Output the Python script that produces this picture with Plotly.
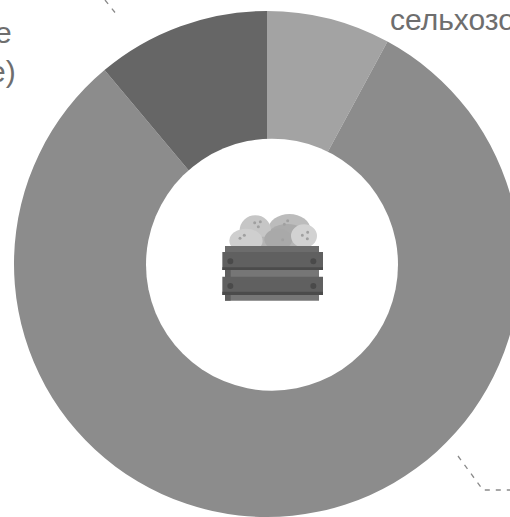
import plotly.graph_objects as go

# --- data ---
categories = ["A", "B", "C"]
shares = [7.9, 81.0, 11.1]
slice_colors = ["#a3a3a3", "#8c8c8c", "#666666"]
label_fragments = ["е", "е)", "сельхозо"]

W, H = 534, 517
R, CY = 253, 264


def px(x):
    return x / W


def py(y):
    return 1 - y / H


def zx(v):
    return 180 + v / 3


def zy(v):
    return 180 + v / 3


shapes = []

# white centre, slightly off the ring's own centre as in the reference
shapes.append(dict(type="circle", xref="paper", yref="paper", layer="above",
                   x0=px(272 - 126), x1=px(272 + 126),
                   y0=py(264.7 - 126), y1=py(264.7 + 126),
                   fillcolor="white", line_width=0))


def ellipse(cx, cy, rx, ry, color):
    shapes.append(dict(type="circle", xref="paper", yref="paper", layer="above",
                       x0=px(zx(cx - rx)), x1=px(zx(cx + rx)),
                       y0=py(zy(cy - ry)), y1=py(zy(cy + ry)),
                       fillcolor=color, line_width=0))


def rect(x0, y0, x1, y1, color):
    shapes.append(dict(type="rect", xref="paper", yref="paper", layer="above",
                       x0=px(zx(x0)), x1=px(zx(x1)), y0=py(zy(y0)), y1=py(zy(y1)),
                       fillcolor=color, line_width=0))


def leader(points):
    d = "M " + " L ".join(f"{px(x)} {py(y)}" for x, y in points)
    shapes.append(dict(type="path", xref="paper", yref="paper", layer="above", path=d,
                       line=dict(color="#8a8a8a", width=1.3, dash="5px,6px")))


# potatoes
ellipse(328, 148, 63, 46, "#bcbcbc")
ellipse(322, 172, 62, 40, "#ababab")
ellipse(226, 152, 47, 46, "#c6c6c6")
rect(190, 170, 350, 200, "#b5b5b5")
ellipse(198, 182, 50, 36, "#cfcfcf")
ellipse(295, 178, 42, 32, "#a9a9a9")
ellipse(372, 168, 39, 35, "#d2d2d2")
for cx, cy in [(224, 128), (241, 125), (235, 140), (180, 175), (193, 166), (313, 133),
               (323, 122), (367, 166), (383, 157), (382, 176), (308, 179)]:
    ellipse(cx, cy, 4.5, 4.5, "#a0a0a0")

# crate
rect(135, 198, 417, 362, "#767676")
rect(135, 198, 417, 216, "#6c6c6c")
rect(135, 216, 152, 362, "#5e5e5e")
rect(127, 216, 429, 270, "#606060")
rect(127, 262, 429, 270, "#4b4b4b")
rect(127, 290, 429, 345, "#606060")
rect(127, 335, 429, 345, "#4b4b4b")
for cx in (151, 400):
    for cy in (244, 318):
        ellipse(cx, cy, 9, 9, "#4a4a4a")

# leader lines
leader([(105, 0), (117, 15)])
leader([(372, -6), (366, 3)])
leader([(458, 456), (483, 490), (534, 490)])

fig = go.Figure(go.Pie(
    labels=categories, values=shares, sort=False, direction="clockwise", rotation=0,
    hole=115 / R, textinfo="none", hoverinfo="skip", showlegend=False,
    marker=dict(colors=slice_colors, line=dict(width=0)),
    domain=dict(x=[0, 1], y=[0, 2 * R / H]),
))

text_font = dict(family="Liberation Sans, Arial, sans-serif", size=30, color="#6e6e6e")
fig.update_layout(
    width=W, height=H, margin=dict(l=0, r=0, t=0, b=0),
    paper_bgcolor="white", plot_bgcolor="white", shapes=shapes,
    annotations=[
        dict(text=label_fragments[0], xref="paper", yref="paper", x=px(14), y=py(33),
             xanchor="right", yanchor="middle", showarrow=False, font=text_font),
        dict(text=label_fragments[1], xref="paper", yref="paper", x=px(18), y=py(71),
             xanchor="right", yanchor="middle", showarrow=False, font=text_font),
        dict(text=label_fragments[2], xref="paper", yref="paper", x=px(388), y=py(19),
             xanchor="left", yanchor="middle", showarrow=False, font=text_font),
    ],
)

fig.write_html(
    "out.html",
    config=dict(displayModeBar=False),
    post_script="document.documentElement.style.overflow='hidden';"
                "document.body.style.overflow='hidden';document.body.style.margin='0';",
)
